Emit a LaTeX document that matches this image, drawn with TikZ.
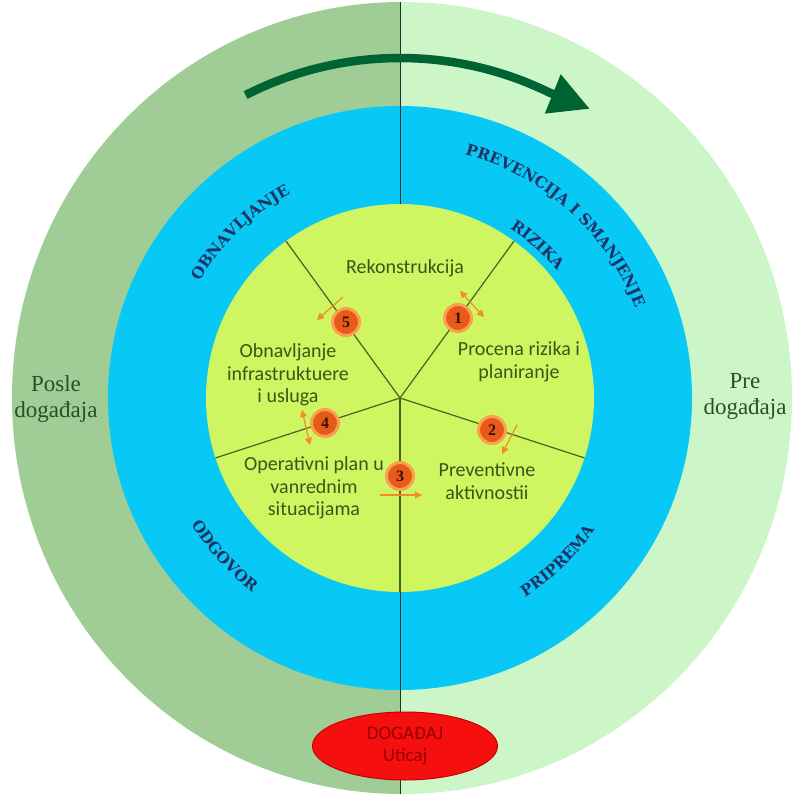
\documentclass[tikz,border=0pt]{standalone}
\usepackage{fontspec}
\setmainfont{Liberation Serif}
\newfontfamily\innerfont{Carlito}
\newfontfamily\ringfont{DejaVu Serif}
\usetikzlibrary{arrows.meta,decorations.text,shapes.geometric}
\definecolor{leftgreen}{RGB}{160,204,150}
\definecolor{rightgreen}{RGB}{204,246,200}
\definecolor{ringblue}{RGB}{8,200,245}
\definecolor{innergreen}{RGB}{207,245,96}
\definecolor{arrowgreen}{RGB}{0,100,50}
\definecolor{navytext}{RGB}{30,50,100}
\definecolor{innertext}{RGB}{50,90,25}
\definecolor{sidetext}{RGB}{40,80,40}
\definecolor{spokecol}{RGB}{70,100,30}
\definecolor{divcol}{RGB}{30,50,45}
\definecolor{numorange}{RGB}{232,90,25}
\definecolor{numglow}{RGB}{250,160,80}
\definecolor{numtext}{RGB}{50,20,10}
\definecolor{flowcol}{RGB}{242,140,40}
\definecolor{eventred}{RGB}{245,15,15}
\definecolor{eventborder}{RGB}{200,0,0}
\definecolor{eventtext}{RGB}{150,0,0}
\tikzset{
  spokeline/.style={draw=spokecol, line width=1.2pt},
  divline/.style={draw=divcol, line width=1pt},
  bigarrow/.style={draw=arrowgreen, line width=8.5pt, -{Triangle[length=40pt,width=40pt]}},
  ringlabel/.style={decorate, decoration={text along path, text align=center, text color=navytext,
      text={|\ringfont\bfseries\fontsize{15.5}{15.5}\selectfont|#1}}},
  innerlabel/.style={font=\innerfont\fontsize{20}{22.5}\selectfont, text=innertext, align=center, inner sep=0pt},
  sidelabel/.style={font=\fontsize{23}{26}\selectfont, text=sidetext, align=center, inner sep=0pt},
  numc/.style={circle, fill=numorange, draw=numglow, line width=3pt, minimum size=27pt, inner sep=0pt,
      font=\bfseries\fontsize{16}{16}\selectfont, text=numtext},
  flow/.style={draw=flowcol, line width=1.2pt, -{Triangle[length=7pt,width=7pt]}},
  flowboth/.style={draw=flowcol, line width=1.2pt, {Triangle[length=7pt,width=7pt]}-{Triangle[length=7pt,width=7pt]}},
  eventnode/.style={ellipse, fill=eventred, draw=eventborder, line width=1pt, minimum width=185pt, minimum height=68pt,
      inner sep=0pt, font=\innerfont\fontsize{19}{22}\selectfont, text=eventtext, align=center}
}
\begin{document}
\begin{tikzpicture}[x=1pt,y=1pt]
\useasboundingbox (0,0) rectangle (797,796);
\coordinate (C) at (400,398);
% outer halves
\begin{scope}
  \clip (402,398) ellipse [x radius=390, y radius=396];
  \fill[leftgreen] (0,0) rectangle (400,796);
  \fill[rightgreen] (400,0) rectangle (797,796);
\end{scope}
% blue ring
\fill[ringblue] (C) circle[radius=292];
\draw[divline] (400,2) -- (400,794);
% inner disc
\fill[innergreen] (C) circle[radius=194];
\foreach \a in {54,126,198,270,342} \draw[spokeline] (C) -- ++(\a:194);
% big arrow
\draw[bigarrow] (C) ++(117:340) arc[start angle=117, end angle=64, radius=340] -- ++(-22:44);
% ring labels
\path[ringlabel={PREVENCIJA I SMANJENJE}] (C) ++(100:252) arc[start angle=100, end angle=-4, radius=252];
\path[ringlabel={RIZIKA}] (C) ++(70:202) arc[start angle=70, end angle=26, radius=202];
\path[ringlabel={OBNAVLJANJE}] (C) ++(160:232) arc[start angle=160, end angle=108, radius=232];
\path[ringlabel={ODGOVOR}] (C) ++(198:244) arc[start angle=198, end angle=246, radius=244];
\path[ringlabel={PRIPREMA}] (C) ++(290:235) arc[start angle=290, end angle=338, radius=235];
% inner labels
\node[innerlabel] (rek) at (405,528) {Rekonstrukcija};
\node[innerlabel] (proc) at (519,434) {Procena rizika i\\planiranje};
\node[innerlabel] (obn) at (288,421) {Obnavljanje\\infrastruktuere\\i usluga};
\node[innerlabel] (oper) at (314,308) {Operativni plan u\\vanrednim\\situacijama};
\node[innerlabel] (prev) at (487,315) {Preventivne\\aktivnostii};
% side labels
\node[sidelabel] (posle) at (56,397) {Posle\\događaja};
\node[sidelabel] (pre) at (745,400) {Pre\\događaja};
% flow arrows
\coordinate (f1a) at (460,505); \coordinate (f1b) at (484,479);
\coordinate (f5a) at (343,499); \coordinate (f5b) at (317,476);
\coordinate (f4a) at (302,386); \coordinate (f4b) at (310,351);
\coordinate (f2a) at (517,371); \coordinate (f2b) at (502,342);
\coordinate (f3a) at (380,301); \coordinate (f3b) at (422,301);
\draw[flowboth] (f1a) -- (f1b);
\draw[flow] (f5a) -- (f5b);
\draw[flowboth] (f4a) -- (f4b);
\draw[flow] (f2a) -- (f2b);
\draw[flow] (f3a) -- (f3b);
% number circles
\node[numc] (n1) at (458,478) {1};
\node[numc] (n2) at (492,366) {2};
\node[numc] (n3) at (400,320) {3};
\node[numc] (n4) at (325,373) {4};
\node[numc] (n5) at (346,474) {5};
% event
\node[eventnode] (event) at (405,50) {DOGAĐAJ\\Uticaj};
\end{tikzpicture}
\end{document}
